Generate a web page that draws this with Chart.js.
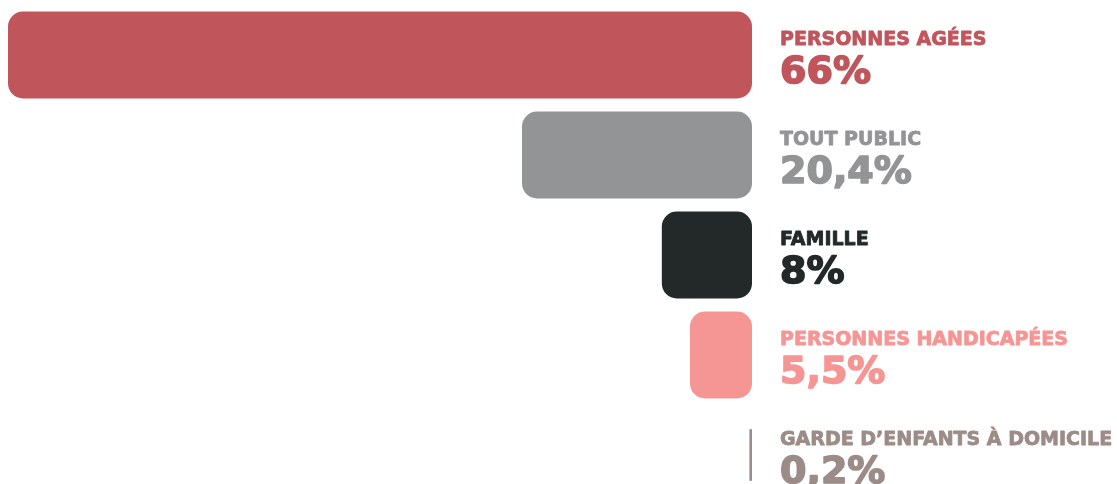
<!DOCTYPE html>
<html>
<head>
<meta charset="utf-8">
<script src="https://cdn.jsdelivr.net/npm/chart.js@4"></script>
<style>
  html, body { margin: 0; padding: 0; background: #ffffff; overflow: hidden; }
  #wrap { width: 1117px; height: 505px; }
</style>
</head>
<body>
<div id="wrap"><canvas id="public_bar" width="1117" height="505"></canvas></div>
<script>
// Données
const categories = [
  "PERSONNES AGÉES",
  "TOUT PUBLIC",
  "FAMILLE",
  "PERSONNES HANDICAPÉES",
  "GARDE D’ENFANTS À DOMICILE",
];
const values = [66, 20.4, 8, 5.5, 0.2];
const valueLabels = ["66%", "20,4%", "8%", "5,5%", "0,2%"];
const colors = ["#C0555C", "#939496", "#232828", "#F59694", "#9C8C88"];

// la dernière barre (très petite) est dessinée plus fine
var mainData = values.map((v, i) => (i < values.length - 1 ? v : null));
var smallData = values.map((v, i) => (i === values.length - 1 ? v : null));

// Étiquettes à droite des barres
var labelPlugin = {
  id: "sideLabels",
  afterDatasetsDraw: function (chart) {
    var ctx = chart.ctx;
    var x = chart.chartArea.right + 28;
    var yScale = chart.scales.y;
    ctx.save();
    ctx.textAlign = "left";
    ctx.textBaseline = "alphabetic";
    ctx.lineJoin = "round";
    categories.forEach(function (cat, i) {
      var y = yScale.getPixelForValue(i);
      ctx.fillStyle = colors[i];
      ctx.strokeStyle = colors[i];
      ctx.font = "bold 19px 'DejaVu Sans'";
      ctx.lineWidth = 0.8;
      ctx.fillText(cat, x, y - 10);
      ctx.strokeText(cat, x, y - 10);
      ctx.font = "bold 38px 'DejaVu Sans'";
      ctx.lineWidth = 1.6;
      ctx.fillText(valueLabels[i], x, y + 28);
      ctx.strokeText(valueLabels[i], x, y + 28);
    });
    ctx.restore();
  },
};

var ctx = document.getElementById("public_bar").getContext("2d");
var chart = new Chart(ctx, {
  type: "bar",
  data: {
    labels: categories,
    datasets: [
      {
        data: mainData,
        backgroundColor: colors,
        borderRadius: 15,
        borderSkipped: false,
        barPercentage: 0.87,
        categoryPercentage: 1,
        grouped: false,
      },
      {
        data: smallData,
        backgroundColor: colors,
        borderRadius: 0,
        borderSkipped: false,
        barThickness: 51,
        grouped: false,
      },
    ],
  },
  plugins: [labelPlugin],
  options: {
    indexAxis: "y",
    responsive: false,
    animation: false,
    layout: {
      padding: { left: 8, right: 365, top: 5, bottom: 0 },
    },
    scales: {
      x: {
        reverse: true,
        min: 0,
        max: 66,
        display: false,
        grid: { display: false },
      },
      y: {
        display: false,
        grid: { display: false },
      },
    },
    plugins: {
      legend: { display: false },
      tooltip: { enabled: false },
    },
  },
});
</script>
</body>
</html>
